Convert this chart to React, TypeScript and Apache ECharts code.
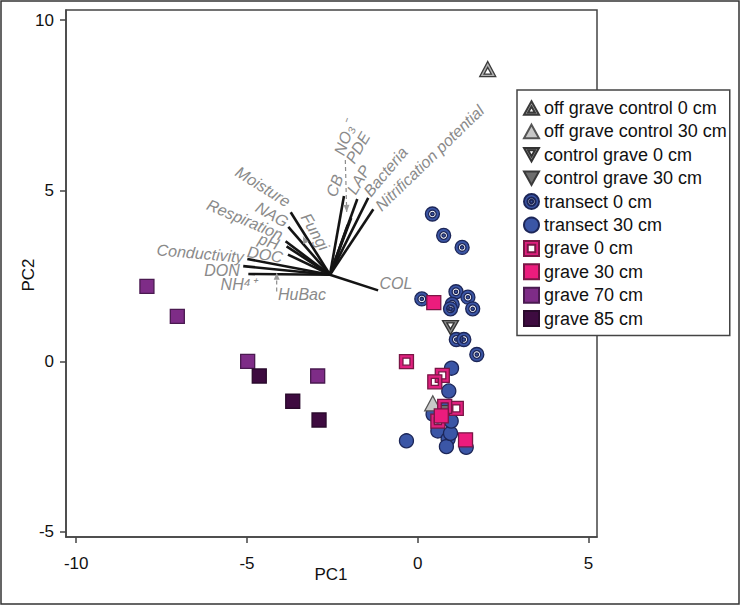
import React, { useEffect, useRef } from "react";
import * as echarts from "echarts";

// ---------- data ----------
const offGraveControl0 = [[2.05, 8.57]];
const offGraveControl30 = [[0.44, -1.23]];
const controlGrave0 = [[0.96, 0.99]];
const controlGrave30 = [[0.72, -1.5]];
const transect0 = [
  [0.43, 4.32], [0.76, 3.69], [1.3, 3.34], [0.12, 1.83], [1.12, 2.04], [1.47, 1.88],
  [1.01, 1.67], [0.96, 1.54], [1.61, 1.54], [1.13, 0.64], [1.35, 0.64], [1.73, 0.2],
];
const transect30 = [
  [0.99, -0.2], [0.91, -0.87], [0.45, -1.55], [0.59, -2.04], [-0.33, -2.33], [0.89, -2.28],
  [0.84, -2.5], [1.42, -2.52], [0.94, -1.7], [0.96, -2.11], [0.8, -1.4], [0.98, -1.75],
];
const grave0 = [[-0.33, -0.01], [0.72, -0.41], [0.5, -0.6], [1.13, -1.38], [0.79, -1.32], [0.59, -1.75]];
const grave30 = [[0.47, 1.72], [0.69, -1.6], [1.4, -2.3]];
const grave70 = [[-7.93, 2.2], [-7.04, 1.32], [-4.98, 0.0], [-2.93, -0.43]];
const grave85 = [[-4.64, -0.43], [-3.66, -1.17], [-2.89, -1.72]];

// loading vectors
const vectorOrigin = [-2.57, 2.54];
const vectorNames = ["Moisture", "NAG", "Respiration", "pH", "DOC", "Conductivity", "DON", "NH4+", "COL", "CB", "LAP", "Bacteria", "Nitrification potential", "PDE", "NO3"];
const vectorEndX = [-3.72, -3.79, -3.87, -3.84, -3.8, -4.99, -5.11, -4.96, -1.16, -2.16, -1.77, -1.45, -1.3, -1.95, -2.05];
const vectorEndY = [4.37, 3.94, 3.52, 3.37, 3.13, 3.0, 2.79, 2.56, 2.08, 4.85, 4.76, 4.79, 4.46, 4.2, 4.0];

// vector labels: text, x, y, rotation (deg, counter-clockwise)
const labelTexts = ["Moisture", "NAG", "Respiration", "pH", "DOC", "Conductivity", "DON", "NH⁴⁺", "HuBac", "COL", "Fungi", "CB", "NO₃⁻", "PDE", "LAP", "Bacteria", "Nitrification potential"];
const labelX = [-4.53, -4.27, -5.06, -4.36, -4.47, -6.37, -5.73, -5.26, -3.39, -0.64, -3.01, -2.43, -2.13, -1.75, -1.73, -0.94, 0.35];
const labelY = [5.12, 4.3, 4.15, 3.51, 3.13, 3.16, 2.66, 2.25, 1.96, 2.28, 3.8, 5.15, 6.55, 6.26, 5.32, 5.56, 5.96];
const labelRot = [-32, -30, -23, -20, -10, -5, 0, 0, 0, 0, -60, 70, 70, 60, 60, 50, 44];

// dashed leader lines for supplementary labels: x1, y1, x2 (arrow end), y2
const leaderX1 = [-2.12, -4.13, -3.27];
const leaderY1 = [5.9, 2.05, 3.47];
const leaderX2 = [-2.08, -4.13, -3.36];
const leaderY2 = [4.38, 2.6, 3.66];

const xTicks = [-10, -5, 0, 5];
const yTicks = [-5, 0, 5, 10];

// ---------- symbols ----------
const circleRing =
  "path://M0,10 A10,10 0 1,1 20,10 A10,10 0 1,1 0,10 Z M4.5,10 A5.5,5.5 0 1,0 15.5,10 A5.5,5.5 0 1,0 4.5,10 Z M7.6,10 A2.4,2.4 0 1,1 12.4,10 A2.4,2.4 0 1,1 7.6,10 Z";
const squareRing = "path://M0,0 L20,0 L20,20 L0,20 Z M5,5 L5,15 L15,15 L15,5 Z";
const triUpRing = "path://M10,0 L20,18 L0,18 Z M10,7 L5.5,15 L14.5,15 Z";
const triUp = "path://M10,0 L20,18 L0,18 Z";
const triDownRing = "path://M0,0 L20,0 L10,18 Z M5.5,3 L10,11 L14.5,3 Z";
const triDown = "path://M0,0 L20,0 L10,18 Z";

const FONT = '"Liberation Sans", Arial, sans-serif';

export default function App() {
  const ref = useRef<HTMLDivElement>(null);
  useEffect(() => {
    const chart = echarts.init(ref.current!, null, { renderer: "svg" });

    const pointSeries = (name: string, data: number[][], symbol: string, size: any, color: string, border: string, z = 5) => ({
      name,
      type: "scatter",
      data,
      symbol,
      symbolSize: size,
      z,
      itemStyle: { color, borderColor: border, borderWidth: 1.3, opacity: 1 },
      emphasis: { disabled: true },
    });

    const option: any = {
      animation: false,
      backgroundColor: "#fff",
      grid: {
        left: 66, right: 143, top: 10, bottom: 68,
        show: true, borderColor: "#444", borderWidth: 1.5, backgroundColor: "transparent",
      },
      xAxis: {
        type: "value", min: -10.3, max: 5.25,
        axisLine: { show: true, onZero: false, lineStyle: { color: "#444", width: 1.5 } },
        axisTick: { show: true, inside: false, length: 6, customValues: xTicks, lineStyle: { color: "#444", width: 1.5 } },
        axisLabel: { customValues: xTicks, fontSize: 17, color: "#111", margin: 18, fontFamily: FONT },
        splitLine: { show: false },
      },
      yAxis: {
        type: "value", min: -5.15, max: 10.3,
        axisLine: { show: true, onZero: false, lineStyle: { color: "#444", width: 1.5 } },
        axisTick: { show: true, inside: false, length: 6, customValues: yTicks, lineStyle: { color: "#444", width: 1.5 } },
        axisLabel: { customValues: yTicks, fontSize: 17, color: "#111", margin: 12, fontFamily: FONT },
        splitLine: { show: false },
      },
      legend: {
        orient: "vertical", left: 517, top: 90,
        data: [
          "off grave control 0 cm", "off grave control 30 cm", "control grave 0 cm", "control grave 30 cm",
          "transect 0 cm", "transect 30 cm", "grave 0 cm", "grave 30 cm", "grave 70 cm", "grave 85 cm",
        ],
        itemWidth: 15, itemHeight: 15, itemGap: 5.4,
        padding: [9, 3, 8, 6],
        backgroundColor: "#fff", borderColor: "#444", borderWidth: 1.5,
        selectedMode: false,
        textStyle: { fontSize: 18, color: "#111", fontFamily: FONT, lineHeight: 16 },
        z: 10,
      },
      graphic: [
        { type: "rect", shape: { x: 1, y: 1, width: 738, height: 603 }, style: { fill: "none", stroke: "#333", lineWidth: 1.5 }, silent: true, z: 100 },
        { type: "text", x: 331, y: 574, style: { text: "PC1", fontSize: 17, fill: "#111", fontFamily: FONT, align: "center", verticalAlign: "middle" } },
        { type: "text", x: 28, y: 275, rotation: Math.PI / 2, style: { text: "PC2", fontSize: 17, fill: "#111", fontFamily: FONT, align: "center", verticalAlign: "middle" } },
      ],
      series: [
        {
          name: "vectors", type: "custom", z: 2, silent: true,
          data: vectorEndX.map((x, i) => [x, vectorEndY[i]]),
          renderItem: (params: any, api: any) => {
            const o = api.coord(vectorOrigin);
            const e = api.coord([api.value(0), api.value(1)]);
            return { type: "line", shape: { x1: o[0], y1: o[1], x2: e[0], y2: e[1] }, style: { stroke: "#141414", lineWidth: 2.6 } };
          },
        },
        {
          name: "leaders", type: "custom", z: 2, silent: true,
          data: leaderX1.map((x, i) => [x, leaderY1[i], leaderX2[i], leaderY2[i]]),
          renderItem: (params: any, api: any) => {
            const a = api.coord([api.value(0), api.value(1)]);
            const b = api.coord([api.value(2), api.value(3)]);
            const ang = Math.atan2(b[1] - a[1], b[0] - a[0]);
            const L = 7, W = 3;
            const p1 = [b[0] - L * Math.cos(ang) + W * Math.sin(ang), b[1] - L * Math.sin(ang) - W * Math.cos(ang)];
            const p2 = [b[0] - L * Math.cos(ang) - W * Math.sin(ang), b[1] - L * Math.sin(ang) + W * Math.cos(ang)];
            return {
              type: "group",
              children: [
                { type: "line", shape: { x1: a[0], y1: a[1], x2: b[0], y2: b[1] }, style: { stroke: "#8c8c8c", lineWidth: 1.2, lineDash: [4, 3] } },
                { type: "polygon", shape: { points: [b, p1, p2] }, style: { fill: "#9a9a9a" } },
              ],
            };
          },
        },
        {
          name: "vectorLabels", type: "custom", z: 3, silent: true,
          data: labelX.map((x, i) => [x, labelY[i]]),
          renderItem: (params: any, api: any) => {
            const p = api.coord([api.value(0), api.value(1)]);
            const i = params.dataIndex;
            return {
              type: "text", x: p[0], y: p[1], rotation: (labelRot[i] * Math.PI) / 180,
              style: { text: labelTexts[i], fill: "#8a8a8a", font: `italic 16px ${FONT}`, align: "center", verticalAlign: "middle" },
            };
          },
        },
        pointSeries("transect 30 cm", transect30, "circle", 14, "#3B56A6", "#1C2658"),
        pointSeries("transect 0 cm", transect0, circleRing, 14, "#3B56A6", "#1C2658"),
        pointSeries("control grave 30 cm", controlGrave30, triDown, [16, 14], "#6E6E6E", "#3a3a3a"),
        pointSeries("off grave control 30 cm", offGraveControl30, triUp, [16, 15], "#C8C8C8", "#555"),
        pointSeries("off grave control 0 cm", offGraveControl0, triUpRing, [16, 15], "#B0B0B0", "#3a3a3a"),
        pointSeries("control grave 0 cm", controlGrave0, triDownRing, [16, 14], "#8a8a8a", "#333"),
        pointSeries("grave 0 cm", grave0, squareRing, 14, "#E0207F", "#7A1645"),
        pointSeries("grave 30 cm", grave30, "rect", 14, "#EC1C7D", "#7A1645"),
        pointSeries("grave 70 cm", grave70, "rect", 14, "#7E2C87", "#4A1A50"),
        pointSeries("grave 85 cm", grave85, "rect", 14, "#3E0B40", "#2A0A2C"),
      ],
    };
    chart.setOption(option);
    return () => chart.dispose();
  }, []);
  return <div ref={ref} style={{ position: "fixed", left: 0, top: 0, width: 740, height: 605 }} />;
}
